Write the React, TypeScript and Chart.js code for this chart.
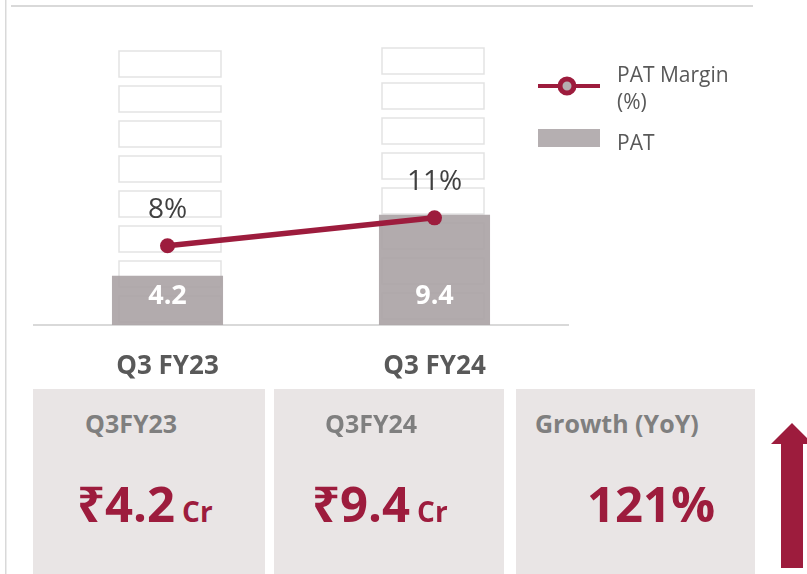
import React, { useEffect, useRef } from 'react';
import { Chart, registerables } from 'chart.js';

Chart.register(...registerables);

// ---- data ----
const categories = ['Q3 FY23', 'Q3 FY24'];
const patValues = [4.2, 9.4];
const patMarginValues = [8, 11];
const seriesLabels = ['PAT Margin (%)', 'PAT'];
const panelTitles = ['Q3FY23', 'Q3FY24', 'Growth (YoY)'];
const panelValues = ['₹4.2', '₹9.4', '121%'];
const panelUnits = ['Cr', 'Cr', ''];

// ---- styles ----
const MAROON = '#9D1C3D';
const BAR_GRAY = '#B5AFB1';
const PANEL_BG = '#E9E5E5';
const FONT = "'Open Sans', 'Noto Sans', sans-serif";

const decorPlugin = {
  id: 'decor',
  beforeDraw(chart: any) {
    const ctx = chart.ctx;
    ctx.save();
    ctx.strokeStyle = '#D9D9D9';
    ctx.lineWidth = 2;
    ctx.beginPath();
    ctx.moveTo(11, 6);
    ctx.lineTo(753, 6);
    ctx.stroke();
    ctx.lineWidth = 1.5;
    ctx.beginPath();
    ctx.moveTo(5.75, 0);
    ctx.lineTo(5.75, 574);
    ctx.stroke();
    ctx.restore();
  },
  beforeDatasetsDraw(chart: any) {
    const ctx = chart.ctx;
    const xs = chart.scales.x;
    const bottom = chart.chartArea.bottom;
    const starts = [51, 48];
    const offs = [2.5, -1.5];
    ctx.save();
    ctx.strokeStyle = '#E3E3E3';
    ctx.lineWidth = 1.5;
    categories.forEach((_, i) => {
      const cx = xs.getPixelForValue(i) + offs[i];
      for (let t = starts[i]; t + 26 <= bottom; t += 35) {
        ctx.strokeRect(cx - 51, t, 102, 26);
      }
    });
    ctx.restore();
  },
  afterDatasetsDraw(chart: any) {
    const ctx = chart.ctx;
    ctx.save();
    // bar labels
    const barMeta = chart.getDatasetMeta(1);
    ctx.fillStyle = '#FFFFFF';
    ctx.font = `bold 27px ${FONT}`;
    ctx.textAlign = 'center';
    ctx.textBaseline = 'middle';
    barMeta.data.forEach((el: any, i: number) => {
      ctx.fillText(String(patValues[i]), el.x, el.base - 29);
    });
    // line labels
    const lineMeta = chart.getDatasetMeta(0);
    ctx.fillStyle = '#404040';
    ctx.font = `28px ${FONT}`;
    lineMeta.data.forEach((el: any, i: number) => {
      ctx.fillText(patMarginValues[i] + '%', el.x, el.y - 36);
    });
    // legend
    ctx.textAlign = 'left';
    ctx.textBaseline = 'alphabetic';
    ctx.font = `21px ${FONT}`;
    ctx.fillStyle = '#595959';
    ctx.strokeStyle = MAROON;
    ctx.lineWidth = 4;
    ctx.beginPath();
    ctx.moveTo(538, 86);
    ctx.lineTo(600, 86);
    ctx.stroke();
    ctx.beginPath();
    ctx.arc(567, 86, 7, 0, Math.PI * 2);
    ctx.fillStyle = BAR_GRAY;
    ctx.fill();
    ctx.lineWidth = 5;
    ctx.stroke();
    ctx.fillStyle = '#595959';
    const words = seriesLabels[0].split(' ');
    const line1 = words.slice(0, -1).join(' ');
    const line2 = words[words.length - 1];
    ctx.fillText(line1, 617, 82);
    ctx.fillText(line2, 617, 109);
    ctx.fillStyle = BAR_GRAY;
    ctx.fillRect(538, 129, 62, 18);
    ctx.fillStyle = '#595959';
    ctx.fillText(seriesLabels[1], 617, 150);
    ctx.restore();
  },
};

function App() {
  const ref = useRef<HTMLCanvasElement | null>(null);
  useEffect(() => {
    if (!ref.current) return;
    const chart = new Chart(ref.current, {
      type: 'bar',
      data: {
        labels: categories,
        datasets: [
          {
            type: 'line',
            label: seriesLabels[0],
            data: patMarginValues,
            yAxisID: 'y2',
            borderColor: MAROON,
            backgroundColor: MAROON,
            borderWidth: 5.5,
            pointRadius: 7.5,
            pointBackgroundColor: MAROON,
            pointBorderWidth: 0,
            order: 1,
          } as any,
          {
            type: 'bar',
            label: seriesLabels[1],
            data: patValues,
            yAxisID: 'y',
            backgroundColor: 'rgba(172,165,167,0.93)',
            categoryPercentage: 1,
            barPercentage: 0.416,
            order: 2,
          },
        ],
      },
      options: {
        responsive: false,
        animation: false,
        layout: { padding: { left: 34, right: 239, top: 31.5, bottom: 165.8 } },
        plugins: { legend: { display: false }, tooltip: { enabled: false } },
        scales: {
          x: {
            grid: { display: false, drawTicks: false },
            border: { display: true, color: '#D9D9D9', width: 2 },
            ticks: { color: '#595959', font: { family: FONT, size: 26, weight: 'bold' }, padding: 26 },
          },
          y: { display: false, min: 0, max: 25 },
          y2: { display: false, min: -0.5, max: 31, position: 'right' },
        },
      },
      plugins: [decorPlugin],
    });
    return () => chart.destroy();
  }, []);

  const panels = [
    { left: 33, width: 232, titleLeft: 52, valueLeft: 44 },
    { left: 274, width: 230, titleLeft: 51, valueLeft: 38 },
    { left: 516, width: 239, titleLeft: 19, valueLeft: 71 },
  ];

  return (
    <div style={{ position: 'absolute', left: 0, top: 0, width: 807, height: 574, overflow: 'hidden', background: '#fff', fontFamily: FONT }}>
      <canvas ref={ref} width={807} height={574} style={{ position: 'absolute', left: 0, top: 0 }} />
      {panels.map((p, i) => (
        <div key={i} style={{ position: 'absolute', left: p.left, top: 389, width: p.width, height: 185, background: PANEL_BG }}>
          <div style={{ position: 'absolute', left: p.titleLeft, top: 22, fontSize: 25, lineHeight: '25px', fontWeight: 700, color: '#7F7F7F', whiteSpace: 'nowrap' }}>
            {panelTitles[i]}
          </div>
          <div style={{ position: 'absolute', left: p.valueLeft, top: 90, fontSize: 49, lineHeight: '49px', fontWeight: 700, color: MAROON, whiteSpace: 'nowrap' }}>
            {panelValues[i]}
            {panelUnits[i] ? <span style={{ fontSize: 28, marginLeft: 7 }}>{panelUnits[i]}</span> : null}
          </div>
        </div>
      ))}
      <svg width={807} height={574} style={{ position: 'absolute', left: 0, top: 0 }}>
        <polygon points="792,423 813,444 803,444 803,568 781,568 781,444 771,444" fill={MAROON} />
      </svg>
    </div>
  );
}

export default App;
